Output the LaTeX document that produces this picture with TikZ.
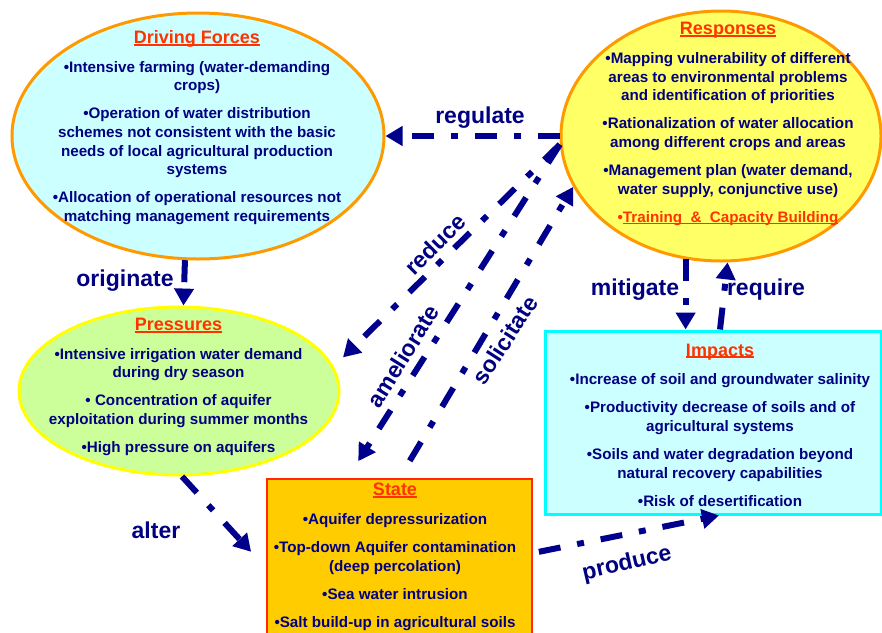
\documentclass[tikz,border=0pt]{standalone}
\usepackage{fontspec}
\setmainfont{Liberation Sans}
\usepackage{xcolor}
\usepackage{tikz}
\usetikzlibrary{shapes,arrows,arrows.meta,positioning,calc}
\definecolor{navyline}{RGB}{0,0,140}
\definecolor{navytext}{RGB}{0,0,128}
\definecolor{titlered}{RGB}{255,51,0}
\definecolor{rimorange}{RGB}{255,153,0}
\definecolor{rimyellow}{RGB}{255,255,0}
\definecolor{rimcyan}{RGB}{0,255,255}
\definecolor{rimred}{RGB}{255,40,0}
\definecolor{lightcyan}{RGB}{204,255,255}
\definecolor{lightyellow}{RGB}{255,255,102}
\definecolor{lightgreen}{RGB}{204,255,153}
\definecolor{stategold}{RGB}{255,204,0}

\newcommand{\ulbox}[1]{\setbox0\hbox{#1}\rlap{\rule[-2pt]{\wd0}{1.6pt}}\box0}
\newcommand{\blocktitle}[1]{{\fontsize{18}{22}\selectfont\color{titlered}\ulbox{#1}}}

\begin{document}
\begin{tikzpicture}[
    x=1pt, y=-1pt,
    bubble/.style={ellipse, line width=3pt, inner sep=0pt},
    panel/.style={rectangle, line width=3pt, inner sep=0pt},
    txt/.style={align=center, text=navytext, font=\bfseries\fontsize{15.2}{18.6}\selectfont},
    link/.style={->, >={Triangle[length=17pt,width=19pt]}, line width=6pt, navyline,
        dash pattern=on 22pt off 17pt on 7pt off 17pt},
    label/.style={text=navytext, font=\bfseries\fontsize{23}{27}\selectfont}
]
    \useasboundingbox (0,0) rectangle (882,632);
    \clip (0,0) rectangle (882,632);

    % Ellipses
    \node[bubble, fill=lightcyan, draw=rimorange, minimum width=372pt, minimum height=246pt] (drive) at (198,136) {};
    \node[bubble, fill=lightyellow, draw=rimorange, minimum width=320pt, minimum height=250pt] (resp) at (721,136) {};
    \node[bubble, fill=lightgreen, draw=rimyellow, minimum width=320pt, minimum height=168pt] (press) at (179,391) {};

    % Boxes
    \node[panel, fill=lightcyan, draw=rimcyan, minimum width=336pt, minimum height=183pt] (impact) at (713,422.5) {};
    \node[panel, fill=stategold, draw=rimred, line width=2pt, minimum width=265pt, minimum height=200pt] (state) at (399.5,579) {};

    % Texts
    \node[txt] (driveTxt) at (197,127.5) {\blocktitle{Driving Forces}\\[10pt]
        •Intensive farming (water-demanding\\ crops)\\[9.5pt]
        •Operation of water distribution\\ schemes not consistent with the basic\\
        needs of local agricultural production\\ systems\\[9.5pt]
        •Allocation of operational resources not\\ matching management requirements};
    \node[txt] (respTxt) at (728,124) {\blocktitle{Responses}\\[10pt]
        •Mapping vulnerability of different\\ areas to environmental problems\\
        and identification of priorities\\[9.5pt]
        •Rationalization of water allocation\\ among different crops and areas\\[9.5pt]
        •Management plan (water demand,\\ water supply, conjunctive use)\\[9.5pt]
        {\color{titlered}•\ulbox{Training\ \ \&\ \ Capacity Building}}};
    \node[txt] (pressTxt) at (178.5,387) {\blocktitle{Pressures}\\[10pt]
        •Intensive irrigation water demand\\ during dry season\\[9.5pt]
        • Concentration of aquifer\\ exploitation during summer months\\[9.5pt]
        •High pressure on aquifers};
    \node[txt] (impactTxt) at (720,425) {\blocktitle{Impacts}\\[10pt]
        •Increase of soil and groundwater salinity\\[9.5pt]
        •Productivity decrease of soils and of\\ agricultural systems\\[9.5pt]
        •Soils and water degradation beyond\\ natural recovery capabilities\\[9.5pt]
        •Risk of desertification};
    \node[txt] (stateTxt) at (395,557) {\blocktitle{State}\\[10pt]
        •Aquifer depressurization\\[9.5pt]
        •Top-down Aquifer contamination\\ (deep percolation)\\[9.5pt]
        •Sea water intrusion\\[9.5pt]
        •Salt build-up in agricultural soils};

    % Connections
    \draw[link] (resp.west) -- (drive.east);
    \draw[link, shorten >=13pt] (resp.183) -- (press.9);
    \draw[link, shorten >=20pt] (resp.183) -- ([xshift=-52pt]state.north);
    \draw[link, shorten <=20pt] (state.north) -- (resp.199);
    \draw[link] (resp.254) -- (resp.254 |- impact.north);
    \draw[link] ([xshift=7pt]impact.north) -- (resp.273);
    \draw[link] (drive.264) -- (press.87);
    \draw[link, shorten >=22pt] (press.272) -- ([yshift=11pt]state.west);
    \draw[link, shorten <=6pt] ([yshift=26pt]state.east) -- ([xshift=6pt]impact.south);

    % Labels
    \node[label] (regulateLbl) at (480,118) {regulate};
    \node[label, rotate=45] (reduceLbl) at (435,244) {reduce};
    \node[label, rotate=58] (amelLbl) at (403,356) {ameliorate};
    \node[label, rotate=57] (solicLbl) at (505,340) {solicitate};
    \node[label] (mitigateLbl) at (635,290) {mitigate};
    \node[label] (requireLbl) at (766,290) {require};
    \node[label] (originateLbl) at (125,281) {originate};
    \node[label] (alterLbl) at (156,530) {alter};
    \node[label, rotate=13] (produceLbl) at (627,564) {produce};
\end{tikzpicture}
\end{document}
